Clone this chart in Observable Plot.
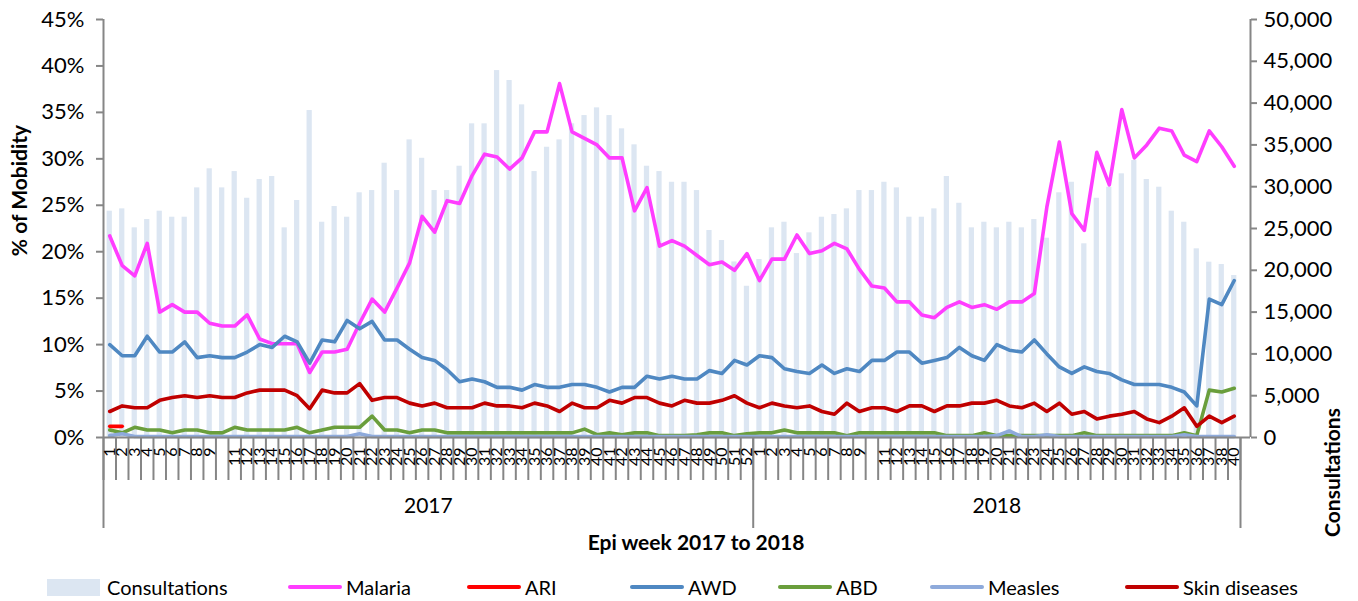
<!DOCTYPE html>
<html><head><meta charset="utf-8">
<script src="https://cdn.jsdelivr.net/npm/d3@7"></script>
<script src="https://cdn.jsdelivr.net/npm/@observablehq/plot@0.6"></script>
<style>
body{margin:0;background:#fff;font-family:Lato, "Open Sans", sans-serif;}
#chart{position:relative;width:1358px;height:601px;overflow:hidden;}
#legend{position:absolute;left:0;top:567px;width:1358px;height:40px;}
.li{position:absolute;top:0;height:40px;display:flex;align-items:center;font-size:20px;color:#000;white-space:nowrap;}
.sw{width:54px;height:4px;margin-right:4px;border-radius:2px;}
.box{width:53px;height:17px;margin-right:7px;}
</style></head><body><div id="chart"></div>
<script>
// ---- data ----
const weeks2017 = ["1","2","3","4","5","6","7","8","9","","11","12","13","14","15","16","17","18","19","20","21","22","23","24","25","26","27","28","29","30","31","32","33","34","35","36","37","38","39","40","41","42","43","44","45","46","47","48","49","50","51","52"];
const weeks2018 = ["1","2","3","4","5","6","7","8","9","","11","12","13","14","15","16","17","18","19","20","21","22","23","24","25","26","27","28","29","30","31","32","33","34","35","36","37","38","40"];
const years = ["2017","2018"];
const consultations = [27070,27350,25080,26070,27070,26350,26350,29860,32140,29860,31810,28620,30860,31220,25080,28350,39110,25750,27630,26350,29270,29540,32810,29540,35600,33400,29540,29540,32450,37520,37520,43890,42700,39790,31810,34720,35600,37520,38510,39430,38510,36920,35010,32450,31810,30530,30530,29540,24760,23560,21000,18090,
  21290,25080,25750,22000,24480,26350,26670,27350,29540,29540,30530,29860,26350,26350,27350,31220,28020,25080,25750,25080,25750,25080,26070,23840,29270,30530,23170,28620,29940,31540,33130,30860,29940,27070,25750,22570,20970,20690,19380];
const malaria = [21.7,18.5,17.4,20.9,13.5,14.3,13.5,13.5,12.3,12.0,12.0,13.2,10.6,10.1,10.1,10.1,7.0,9.2,9.2,9.5,12.3,14.9,13.5,16.1,18.8,23.8,22.1,25.5,25.2,28.2,30.5,30.2,28.9,30.1,32.9,32.9,38.1,32.9,32.2,31.5,30.1,30.1,24.4,26.9,20.6,21.2,20.6,19.6,18.6,18.9,18.0,19.8,
  16.9,19.2,19.2,21.8,19.8,20.1,20.9,20.3,18.1,16.3,16.1,14.6,14.6,13.2,12.9,14.0,14.6,14.0,14.3,13.8,14.6,14.6,15.5,24.8,31.8,24.1,22.3,30.7,27.2,35.3,30.1,31.5,33.3,33.0,30.4,29.7,33.0,31.3,29.2];
const ari = [1.2,1.2];
const awd = [10.0,8.8,8.8,10.9,9.2,9.2,10.3,8.6,8.8,8.6,8.6,9.2,10.0,9.7,10.9,10.3,8.0,10.5,10.3,12.6,11.7,12.5,10.5,10.5,9.5,8.6,8.3,7.3,6.0,6.3,6.0,5.4,5.4,5.1,5.7,5.4,5.4,5.7,5.7,5.4,4.9,5.4,5.4,6.6,6.3,6.6,6.3,6.3,7.2,6.9,8.3,7.8,
  8.8,8.6,7.4,7.1,6.9,7.8,6.9,7.4,7.1,8.3,8.3,9.2,9.2,8.0,8.3,8.6,9.7,8.8,8.3,10.0,9.4,9.2,10.5,9.0,7.6,6.9,7.6,7.1,6.9,6.2,5.7,5.7,5.7,5.4,4.9,3.4,14.9,14.3,16.9];
const abd = [0.8,0.5,1.1,0.8,0.8,0.5,0.8,0.8,0.5,0.5,1.1,0.8,0.8,0.8,0.8,1.1,0.5,0.8,1.1,1.1,1.1,2.3,0.8,0.8,0.5,0.8,0.8,0.5,0.5,0.5,0.5,0.5,0.5,0.5,0.5,0.5,0.5,0.5,0.9,0.3,0.5,0.3,0.5,0.5,0.2,0.2,0.2,0.3,0.5,0.5,0.2,0.4,
  0.5,0.5,0.8,0.5,0.5,0.5,0.5,0.2,0.5,0.5,0.5,0.5,0.5,0.5,0.5,0.2,0.2,0.2,0.5,0.2,0.2,0.2,0.2,0.2,0.2,0.2,0.5,0.2,0.2,0.2,0.2,0.2,0.2,0.2,0.5,0.2,5.1,4.9,5.3];
const measles = [0.2,0.4,0.1,0.1,0.1,0.1,0.1,0.1,0.1,0.1,0.1,0.1,0.1,0.1,0.1,0.1,0.1,0.1,0.1,0.1,0.4,0.1,0.1,0.1,0.1,0.1,0.1,0.1,0.1,0.1,0.1,0.1,0.1,0.1,0.1,0.1,0.1,0.1,0.1,0.1,0.1,0.1,0.1,0.1,0.1,0.1,0.1,0.1,0.1,0.1,0.1,0.1,
  0.1,0.1,0.1,0.1,0.1,0.1,0.1,0.1,0.1,0.1,0.1,0.1,0.1,0.1,0.1,0.1,0.1,0.1,0.1,0.2,0.7,0.1,0.1,0.3,0.1,0.1,0.1,0.1,0.1,0.1,0.1,0.1,0.1,0.1,0.3,0.1,0.1,0.1,0.1];
const skin = [2.8,3.4,3.2,3.2,4.0,4.3,4.5,4.3,4.5,4.3,4.3,4.8,5.1,5.1,5.1,4.5,3.1,5.1,4.8,4.8,5.8,4.0,4.3,4.3,3.7,3.4,3.7,3.2,3.2,3.2,3.7,3.4,3.4,3.2,3.7,3.4,2.8,3.7,3.2,3.2,4.0,3.7,4.3,4.3,3.7,3.4,4.0,3.7,3.7,4.0,4.5,3.7,
  3.2,3.7,3.4,3.2,3.4,2.8,2.5,3.7,2.8,3.2,3.2,2.8,3.4,3.4,2.8,3.4,3.4,3.7,3.7,4.0,3.4,3.2,3.7,2.8,3.7,2.5,2.8,2.0,2.3,2.5,2.8,2.0,1.6,2.3,3.2,1.2,2.3,1.6,2.3];
const pctTicks = [0,5,10,15,20,25,30,35,40,45];
const consTicks = [0,5000,10000,15000,20000,25000,30000,35000,40000,45000,50000];
const series = [
  {name:"Malaria", values: malaria, color:"#ff3dff"},
  {name:"ARI", values: ari, color:"#ff0000"},
  {name:"AWD", values: awd, color:"#4f88c2"},
  {name:"ABD", values: abd, color:"#6a9e3c"},
  {name:"Measles", values: measles, color:"#8eaadb"},
  {name:"Skin diseases", values: skin, color:"#c00000"}
];

// ---- derived ----
const PCT_MAX = 45, CONS_MAX = 50000;
const toPct = c => c / CONS_MAX * PCT_MAX;
const labels = [...weeks2017, ...weeks2018];
const N = labels.length;
const bars = consultations.map((c, i) => ({i, c}));
const groups = [
  {year: years[0], start: -0.5, end: weeks2017.length - 0.5},
  {year: years[1], start: weeks2017.length - 0.5, end: N - 0.5}
].map(g => ({...g, mid: (g.start + g.end) / 2}));
const groupEdges = [-0.5, weeks2017.length - 0.5, N - 0.5];
const boundaries = d3.range(N + 1).map(k => k - 0.5);
const axisColor = "#868686";

const lineMarks = series.map(s => Plot.line(s.values.map((v, i) => ({i, v})), {
  x: "i", y: "v", stroke: s.color, strokeWidth: 3.6, strokeLinejoin: "round", strokeLinecap: "round"
}));

const plot = Plot.plot({
  width: 1358, height: 567,
  marginLeft: 103, marginRight: 118, marginTop: 19, marginBottom: 130,
  style: {fontFamily: "Lato, 'Open Sans', sans-serif", fontSize: "20px", color: "#000", background: "#fff", overflow: "visible"},
  x: {type: "linear", domain: [-0.5, N - 0.5], axis: null},
  y: {domain: [0, PCT_MAX], axis: null},
  marks: [
    Plot.rect(bars, {x1: d => d.i - 0.21, x2: d => d.i + 0.21, y1: 0, y2: d => toPct(d.c), fill: "#dce6f2"}),
    ...lineMarks,
    // axis lines
    Plot.ruleX([-0.5], {y1: 0, y2: PCT_MAX, stroke: axisColor, strokeWidth: 2}),
    Plot.ruleX([N - 0.5], {y1: 0, y2: PCT_MAX, stroke: axisColor, strokeWidth: 2, dx: 10}),
    Plot.ruleY([0], {stroke: axisColor, strokeWidth: 2, insetRight: -10}),
    // left axis
    Plot.axisY({anchor: "left", ticks: pctTicks, tickFormat: d => d + "%", tickSize: 7, tickPadding: 12, stroke: axisColor, strokeWidth: 2, fontSize: 22, label: null}),
    // right axis
    Plot.axisY({anchor: "right", ticks: consTicks.map(toPct), tickFormat: d => d3.format(",")(Math.round(d / PCT_MAX * CONS_MAX)), tickSize: 6, tickPadding: 7, dx: 10, stroke: axisColor, strokeWidth: 2, fontSize: 22, label: null}),
    // category ticks
    Plot.axisX({ticks: boundaries, tickSize: 43, tickFormat: () => "", stroke: axisColor, strokeWidth: 2, label: null}),
    Plot.axisX({ticks: groupEdges, tickSize: 91, tickFormat: () => "", stroke: axisColor, strokeWidth: 2, label: null}),
    Plot.axisX({ticks: d3.range(N), tickSize: 0, tickPadding: 10, tickRotate: -90, tickFormat: i => labels[i], fontSize: 16, label: null}),
    Plot.text(groups, {x: "mid", text: "year", frameAnchor: "bottom", dy: 75, fontSize: 21}),
    Plot.text(["Epi week 2017 to 2018"], {frameAnchor: "bottom", dy: 112, dx: 24, fontWeight: "bold", fontSize: 21}),
    Plot.text(["% of Mobidity"], {frameAnchor: "left", textAnchor: "middle", dx: -83, dy: -38, rotate: -90, fontWeight: "bold", fontSize: 21}),
    Plot.text(["Consultations"], {frameAnchor: "right", textAnchor: "middle", dx: 93, dy: 244, rotate: -90, fontWeight: "bold", fontSize: 21})
  ]
});
const chart = document.getElementById("chart");
chart.appendChild(plot);

// legend
const legendLeft = [47, 288, 467, 630, 778, 930, 1125];
const legend = document.createElement("div");
legend.id = "legend";
const items = [{name: "Consultations", box: "#dce6f2"}, ...series];
items.forEach((it, k) => {
  const el = document.createElement("div");
  el.className = "li";
  el.style.left = legendLeft[k] + "px";
  const sw = document.createElement("span");
  if (it.box) { sw.className = "box"; sw.style.background = it.box; }
  else { sw.className = "sw"; sw.style.background = it.color; }
  el.appendChild(sw);
  el.appendChild(document.createTextNode(it.name));
  legend.appendChild(el);
});
chart.appendChild(legend);
</script></body></html>
